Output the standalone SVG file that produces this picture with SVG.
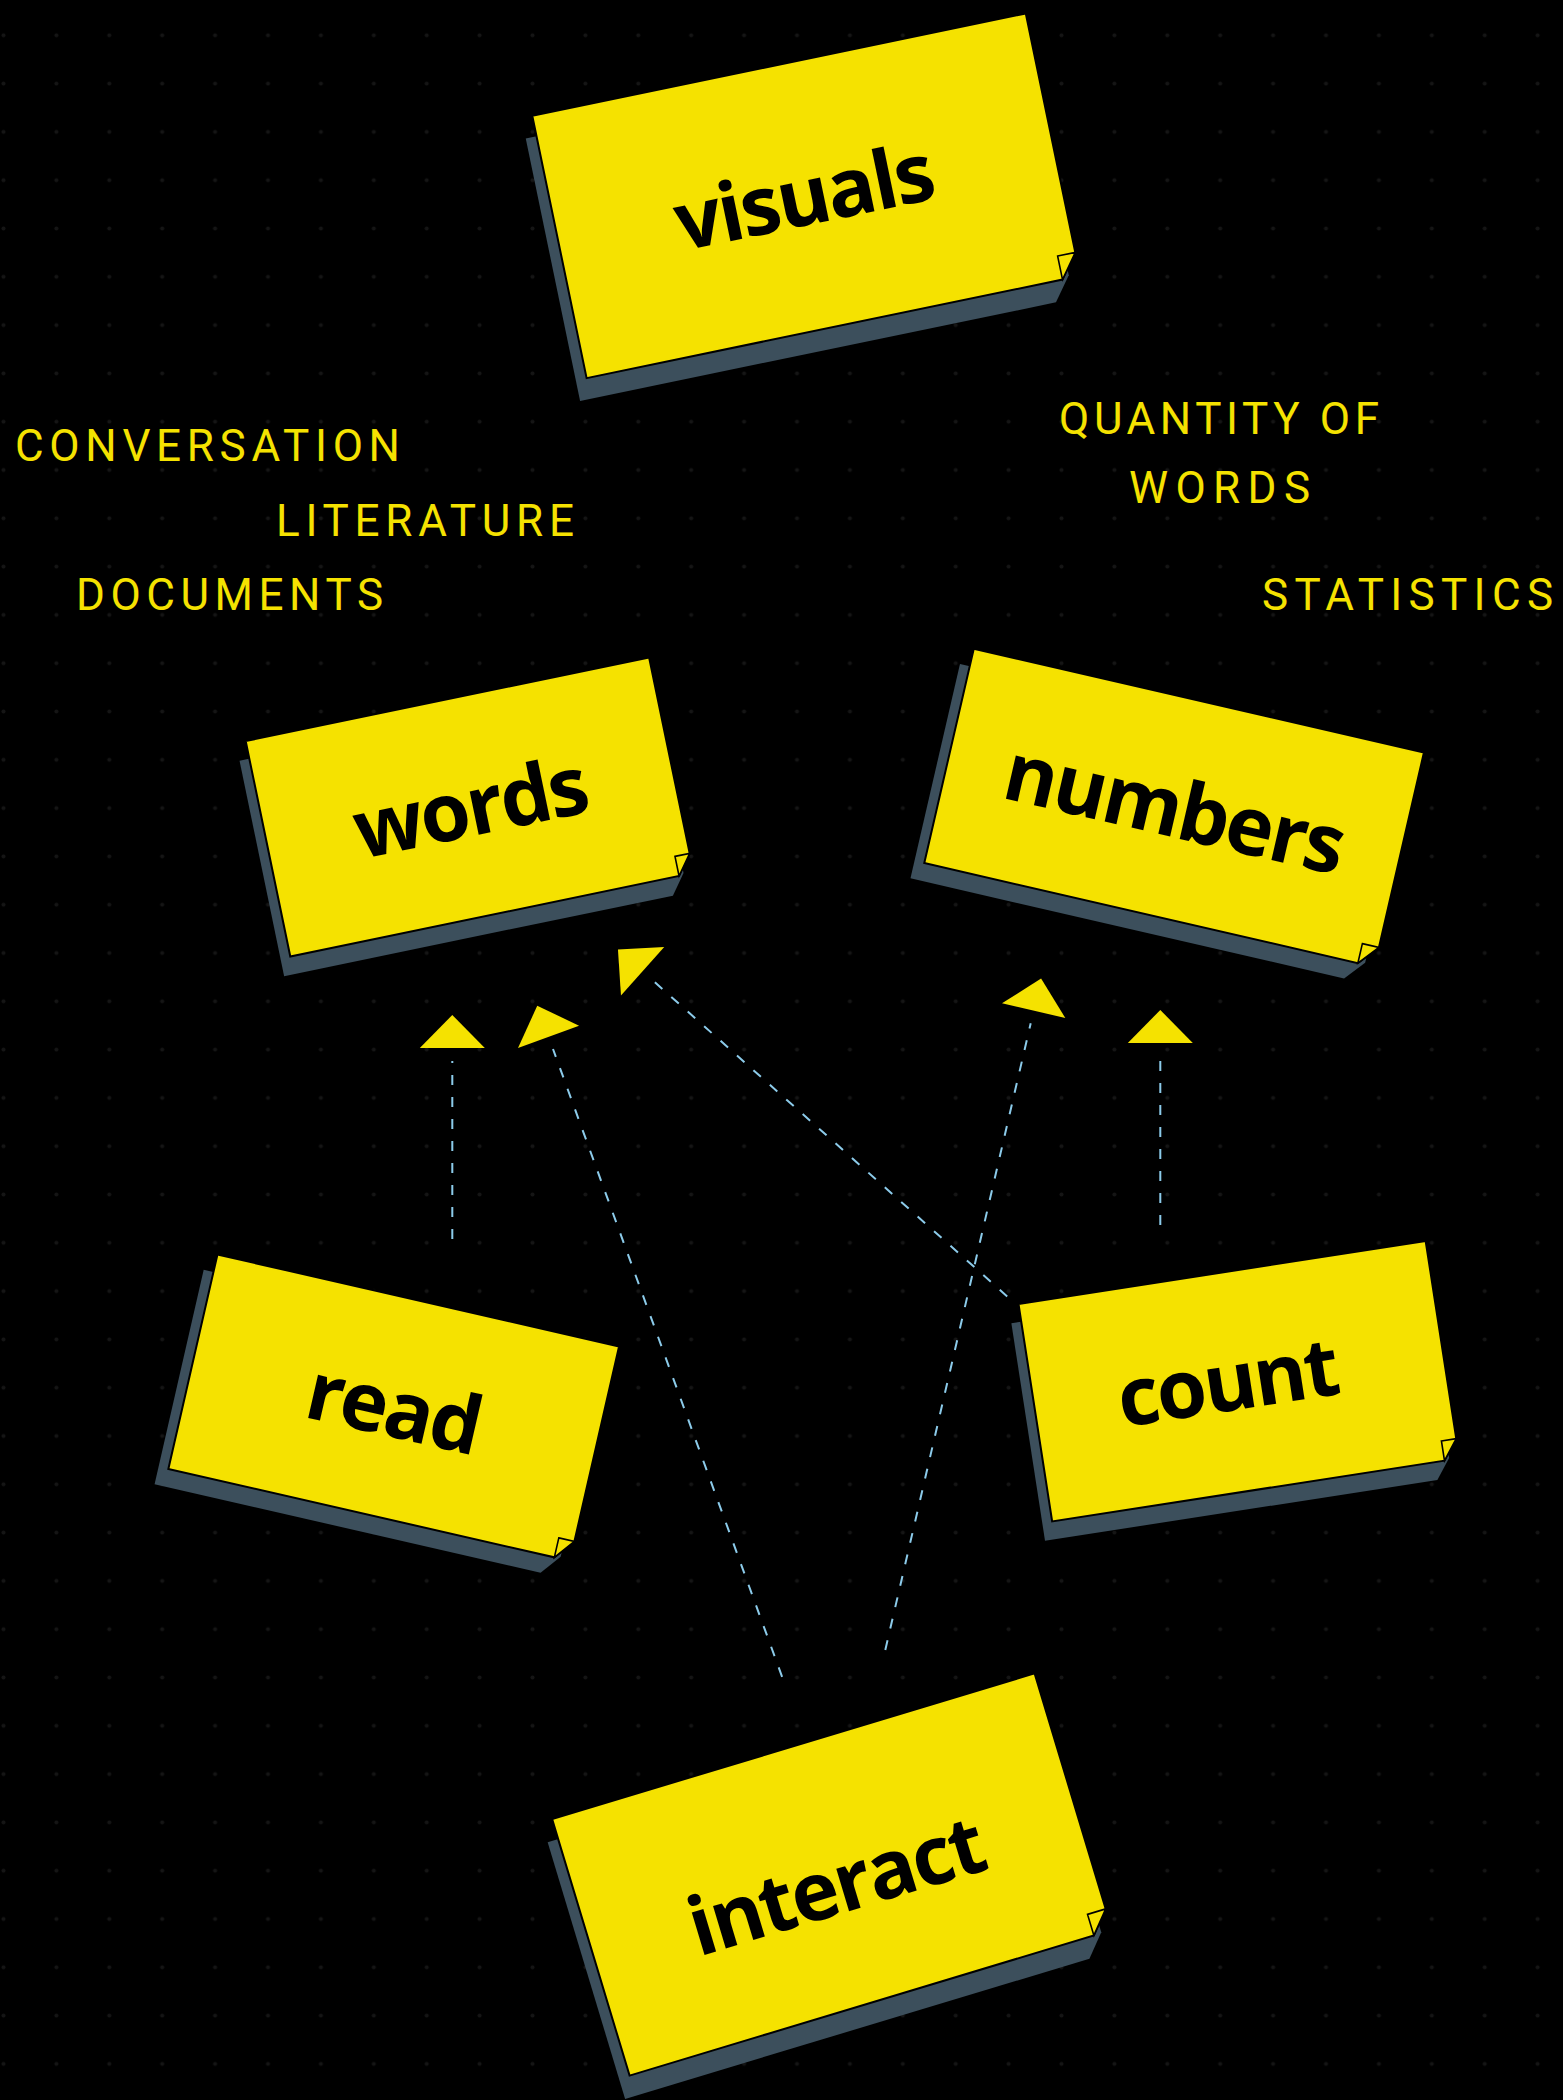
<svg xmlns="http://www.w3.org/2000/svg" width="1563" height="2100" viewBox="0 0 1563 2100">
<defs>
<style>
.shadow{fill:#3c4f5c;stroke:none}
.card{fill:#f5e200;stroke:#000;stroke-width:2;stroke-linejoin:miter}
.flap{fill:#f5e200;stroke:#000;stroke-width:1.6;stroke-linejoin:miter}
.lbl{font-family:"Open Sans","Noto Sans",sans-serif;font-weight:700;font-size:81px;letter-spacing:-2.5px;fill:#000;text-anchor:middle}
.tag{font-family:Roboto,"Liberation Sans",sans-serif;font-size:44px;fill:#f5e200}
.edge{fill:none;stroke:#8ccbea;stroke-width:2;stroke-dasharray:10 12;marker-end:url(#ah)}
</style>
<marker id="ah" markerUnits="userSpaceOnUse" viewBox="0 -34 50 68" markerWidth="50" markerHeight="68" refX="0" refY="0" orient="auto">
<path d="M13,-32.5 L46,0 L13,32.5 Z" fill="#f5e200"/>
</marker>
<pattern id="dots" patternUnits="userSpaceOnUse" x="-22.95" y="11.15" width="52.9" height="48.3">
<circle cx="26.45" cy="24.15" r="2" fill="#151515"/>
</pattern>
</defs>
<rect width="1563" height="2100" fill="#000"/>
<rect width="1563" height="2100" fill="url(#dots)"/>

<g id="labels">
<text class="tag" x="15" y="461" textLength="385" lengthAdjust="spacing">CONVERSATION</text>
<text class="tag" x="276" y="536" textLength="298" lengthAdjust="spacing">LITERATURE</text>
<text class="tag" x="76" y="610" textLength="307" lengthAdjust="spacing">DOCUMENTS</text>
<text class="tag" x="1059" y="434" textLength="320" lengthAdjust="spacing">QUANTITY OF</text>
<text class="tag" x="1129" y="503" textLength="181" lengthAdjust="spacing">WORDS</text>
<text class="tag" x="1262" y="610" textLength="291" lengthAdjust="spacing">STATISTICS</text>
</g>

<g id="connectors">
<path class="edge" d="M452.3,1239 L452.3,1061"/>
<path class="edge" d="M782.1,1676.8 L553,1049"/>
<path class="edge" d="M1007.2,1296.4 L652.3,980"/>
<path class="edge" d="M885.3,1650 L1030.7,1023.3"/>
<path class="edge" d="M1160.3,1225 L1160.3,1056"/>
</g>

<g id="node-visuals" transform="translate(806.2 195.8) rotate(-11.7)">
<polygon class="shadow" transform="translate(-11 21)" points="-252,-134 252,-134 252,110 234,134 -252,134"/>
<polygon class="card" points="-252,-134 252,-134 252,110 234,134 -252,134"/>
<polygon class="flap" points="234,110 252,110 234,134"/>
<text class="lbl" x="-3" y="29">visuals</text>
</g>

<g id="node-words" transform="translate(469.7 807) rotate(-11.7)">
<polygon class="shadow" transform="translate(-10 18)" points="-206,-110 206,-110 206,90 191,110 -206,110"/>
<polygon class="card" points="-206,-110 206,-110 206,90 191,110 -206,110"/>
<polygon class="flap" points="191,90 206,90 191,110"/>
<text class="lbl" x="0" y="29">words</text>
</g>

<g id="node-numbers" transform="translate(1174.1 807.8) rotate(13)">
<polygon class="shadow" transform="translate(-10 18)" points="-231,-110 231,-110 231,90 214,110 -231,110"/>
<polygon class="card" points="-231,-110 231,-110 231,90 214,110 -231,110"/>
<polygon class="flap" points="214,90 231,90 214,110"/>
<text class="lbl" x="0" y="29">numbers</text>
</g>

<g id="node-read" transform="translate(393.7 1407.7) rotate(12.9)">
<polygon class="shadow" transform="translate(-10 18)" points="-206,-110 206,-110 206,90 190,110 -206,110"/>
<polygon class="card" points="-206,-110 206,-110 206,90 190,110 -206,110"/>
<polygon class="flap" points="190,90 206,90 190,110"/>
<text class="lbl" x="0" y="29">read</text>
</g>

<g id="node-count" transform="translate(1238.9 1381.2) rotate(-8.8)">
<polygon class="shadow" transform="translate(-10 18)" points="-206,-110 206,-110 206,90 191,110 -206,110"/>
<polygon class="card" points="-206,-110 206,-110 206,90 191,110 -206,110"/>
<polygon class="flap" points="191,90 206,90 191,110"/>
<text class="lbl" x="-12" y="28">count</text>
</g>

<g id="node-interact" transform="translate(832.1 1874.5) rotate(-16.8)">
<polygon class="shadow" transform="translate(-11 21)" points="-252,-134 252,-134 252,112 233,134 -252,134"/>
<polygon class="card" points="-252,-134 252,-134 252,112 233,134 -252,134"/>
<polygon class="flap" points="233,112 252,112 233,134"/>
<text class="lbl" x="0" y="40">interact</text>
</g>
</svg>
